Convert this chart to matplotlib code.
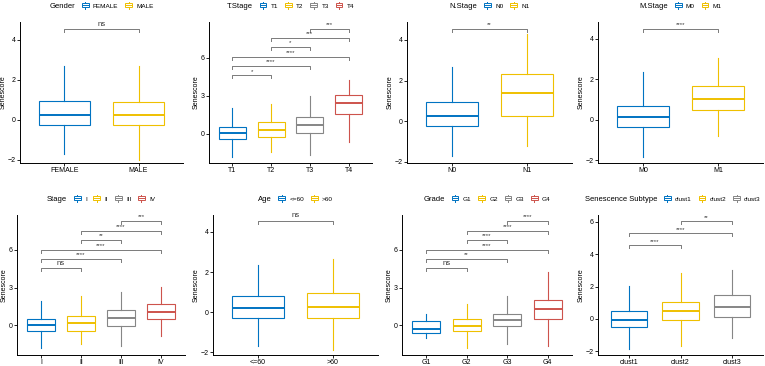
import matplotlib
matplotlib.use('Agg')
import matplotlib.pyplot as plt
from matplotlib.legend_handler import HandlerBase
from matplotlib.patches import Rectangle
from matplotlib.lines import Line2D

plt.rcParams['font.family'] = ['Liberation Sans', 'DejaVu Sans']

jco = ['#0073C2', '#EFC000', '#868686', '#CD534C']

# box stats per group: whisker low, q1, median, q3, whisker high
gender_groups = ['FEMALE', 'MALE']
gender_stats = [[-1.70, -0.28, 0.22, 0.93, 2.67], [-2.00, -0.28, 0.25, 0.87, 2.67]]
gender_pairs = [(0, 1, 4.55, 'ns')]

tstage_groups = ['T1', 'T2', 'T3', 'T4']
tstage_stats = [[-1.83, -0.42, 0.05, 0.57, 2.00], [-1.44, -0.29, 0.31, 0.89, 2.32],
                [-1.67, 0.05, 0.73, 1.36, 3.00], [-0.68, 1.57, 2.40, 3.05, 4.23]]
tstage_pairs = [(0, 1, 4.60, '*'), (0, 2, 5.35, '****'), (0, 3, 6.06, '****'),
                (1, 2, 6.84, '*'), (1, 3, 7.55, '***'), (2, 3, 8.28, '***')]

nstage_groups = ['N0', 'N1']
nstage_stats = [[-1.70, -0.24, 0.28, 0.94, 2.68], [-1.22, 0.28, 1.41, 2.32, 4.30]]
nstage_pairs = [(0, 1, 4.55, '**')]

mstage_groups = ['M0', 'M1']
mstage_stats = [[-1.84, -0.36, 0.13, 0.70, 2.38], [-0.82, 0.48, 1.02, 1.66, 3.08]]
mstage_pairs = [(0, 1, 4.50, '****')]

stage_groups = ['I', 'II', 'III', 'IV']
stage_stats = [[-1.83, -0.47, 0.00, 0.52, 1.96], [-1.51, -0.47, 0.16, 0.73, 2.35],
               [-1.67, -0.08, 0.57, 1.25, 2.61], [-0.86, 0.47, 1.04, 1.70, 3.05]]
stage_pairs = [(0, 1, 4.54, 'ns'), (0, 2, 5.30, '****'), (0, 3, 6.00, '****'),
               (1, 2, 6.79, '**'), (1, 3, 7.49, '****'), (2, 3, 8.28, '***')]

age_groups = ['<=60', '>60']
age_stats = [[-1.70, -0.28, 0.23, 0.82, 2.36], [-1.89, -0.28, 0.28, 0.98, 2.66]]
age_pairs = [(0, 1, 4.56, 'ns')]

grade_groups = ['G1', 'G2', 'G3', 'G4']
grade_stats = [[-1.04, -0.57, -0.31, 0.31, 0.91], [-1.77, -0.47, -0.05, 0.47, 1.70],
               [-1.51, -0.08, 0.44, 0.91, 2.35], [-1.64, 0.52, 1.28, 2.04, 4.23]]
grade_pairs = [(0, 1, 4.54, 'ns'), (0, 2, 5.30, '**'), (0, 3, 6.00, '****'),
               (1, 2, 6.79, '****'), (1, 3, 7.49, '****'), (2, 3, 8.28, '****')]

subtype_groups = ['clust1', 'clust2', 'clust3']
subtype_stats = [[-1.84, -0.53, -0.06, 0.51, 2.04], [-1.69, -0.08, 0.47, 1.02, 2.86],
                 [-1.16, 0.14, 0.71, 1.47, 3.02]]
subtype_pairs = [(0, 1, 4.57, '****'), (0, 2, 5.31, '****'), (1, 2, 6.06, '**')]

panels = [
    ('Gender', gender_groups, gender_stats, gender_pairs, (-2.17, 4.9), [-2, 0, 2, 4]),
    ('T.Stage', tstage_groups, tstage_stats, tstage_pairs, (-2.3, 8.8), [0, 3, 6]),
    ('N.Stage', nstage_groups, nstage_stats, nstage_pairs, (-2.05, 4.88), [-2, 0, 2, 4]),
    ('M.Stage', mstage_groups, mstage_stats, mstage_pairs, (-2.13, 4.84), [-2, 0, 2, 4]),
    ('Stage', stage_groups, stage_stats, stage_pairs, (-2.35, 8.75), [0, 3, 6]),
    ('Age', age_groups, age_stats, age_pairs, (-2.13, 4.84), [-2, 0, 2, 4]),
    ('Grade', grade_groups, grade_stats, grade_pairs, (-2.35, 8.75), [0, 3, 6]),
    ('Senescence Subtype', subtype_groups, subtype_stats, subtype_pairs, (-2.24, 6.43), [-2, 0, 2, 4, 6]),
]

# axes boxes in pixels: left, right, top, bottom
W, H = 765, 366
boxes_px = [(20, 183, 22, 163), (209, 372, 22, 163), (407, 572, 22, 163), (598, 763, 22, 163),
            (17, 185, 215, 355), (213, 378, 215, 355), (402, 572, 215, 355), (598, 763, 215, 355)]


class BoxHandler(HandlerBase):
    def create_artists(self, legend, orig_handle, xd, yd, w, h, fontsize, trans):
        c = orig_handle.get_edgecolor()
        x0, y0 = -xd, -yd
        rect = Rectangle((x0 + 0.12 * w, y0 + 0.15 * h), 0.76 * w, 0.7 * h,
                         facecolor='white', edgecolor=c, lw=0.7, transform=trans)
        med = Line2D([x0 + 0.12 * w, x0 + 0.88 * w], [y0 + 0.5 * h] * 2, color=c, lw=0.7, transform=trans)
        wl = Line2D([x0 + 0.5 * w] * 2, [y0 - 0.15 * h, y0 + 0.15 * h], color=c, lw=0.7, transform=trans)
        wh = Line2D([x0 + 0.5 * w] * 2, [y0 + 0.85 * h, y0 + 1.15 * h], color=c, lw=0.7, transform=trans)
        return [rect, med, wl, wh]


fig = plt.figure(figsize=(W / 100, H / 100), dpi=100)
fs = 5.0

for (title, groups, stats, pairs, ylim, yticks), (l, r, t, b) in zip(panels, boxes_px):
    ax = fig.add_axes([l / W, 1 - b / H, (r - l) / W, (b - t) / H])
    n = len(groups)
    pos = list(range(1, n + 1))
    bx = [dict(whislo=s[0], q1=s[1], med=s[2], q3=s[3], whishi=s[4], label=g)
          for s, g in zip(stats, groups)]
    res = ax.bxp(bx, positions=pos, widths=0.7, showfliers=False, showcaps=False,
                 patch_artist=True, manage_ticks=False)
    for i in range(n):
        c = jco[i]
        res['boxes'][i].set(facecolor='white', edgecolor=c, linewidth=0.8)
        res['medians'][i].set(color=c, linewidth=1.4)
        for wk in res['whiskers'][2 * i:2 * i + 2]:
            wk.set(color=c, linewidth=0.8)
    yr = ylim[1] - ylim[0]
    tip = 0.022 * yr
    for a, bb, y, lab in pairs:
        ax.plot([pos[a], pos[a], pos[bb], pos[bb]], [y - tip, y, y, y - tip],
                color='#7a7a7a', lw=0.7)
        ax.text((pos[a] + pos[bb]) / 2, y + 0.01 * yr, lab, ha='center', va='bottom',
                fontsize=5.5 if lab == 'ns' else 4.3, color='#333333')
    ax.set_xlim(0.4, n + 0.6)
    ax.set_ylim(*ylim)
    ax.set_xticks(pos)
    ax.set_xticklabels(groups)
    ax.set_yticks(yticks)
    ax.tick_params(labelsize=fs, length=2, width=0.6, pad=1, colors='black')
    ax.set_ylabel('Senescore', fontsize=fs, labelpad=1)
    for sp in ['top', 'right']:
        ax.spines[sp].set_visible(False)
    for sp in ['left', 'bottom']:
        ax.spines[sp].set_linewidth(0.7)

    handles = [Rectangle((0, 0), 1, 1, facecolor='white', edgecolor=jco[i]) for i in range(n)]
    if n == 3:
        anchor, loc = (764 / W, 1 - (t - 16) / H), 'center right'
    else:
        anchor, loc = ((l + r) / 2 / W, 1 - (t - 16) / H), 'center'
    leg = fig.legend(handles, groups, handler_map={Rectangle: BoxHandler()},
                     loc=loc, bbox_to_anchor=anchor,
                     ncol=n, frameon=False, fontsize=4.6, title=title,
                     title_fontsize=5.5, handlelength=1.4, handleheight=0.9,
                     handletextpad=0.5, columnspacing=0.9, borderpad=0)
    # put the legend title to the left of the keys
    vbox = leg.get_children()[0]
    tbox, hbox = vbox.get_children()
    vbox._children = [hbox]
    hbox._children = [tbox] + hbox.get_children()

fig.savefig('out.png', dpi=100)
